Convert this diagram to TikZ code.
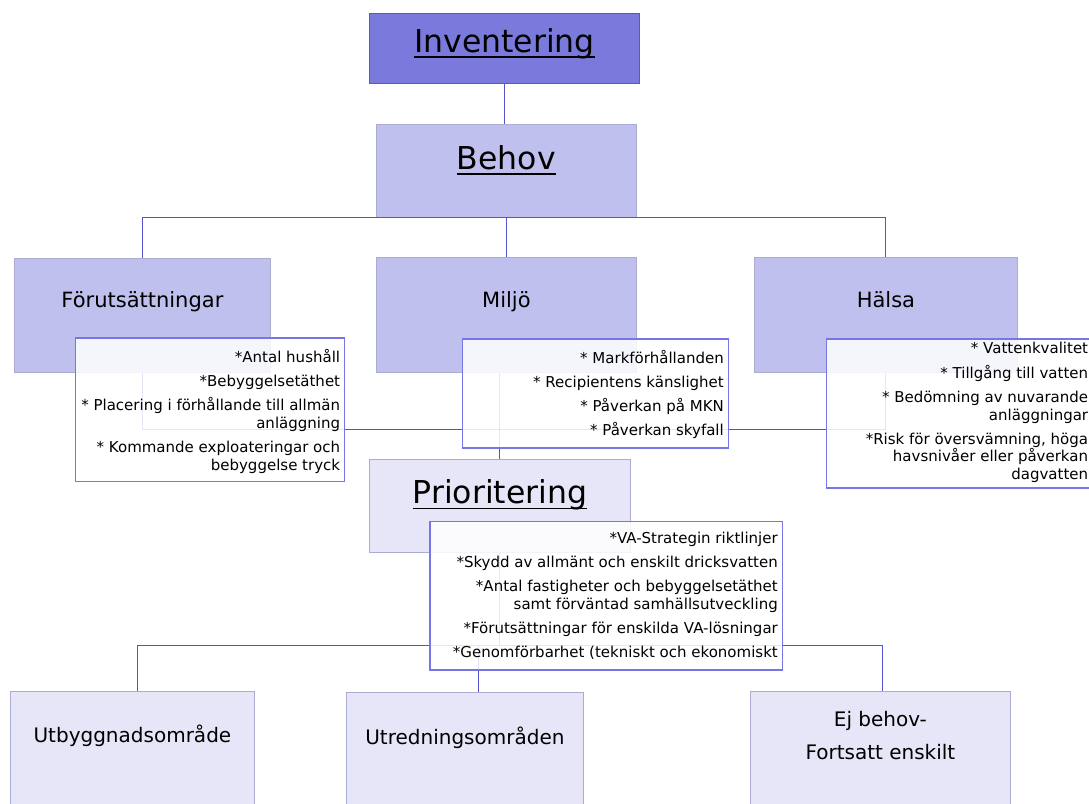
\documentclass[tikz,border=0pt]{standalone}
\usepackage{fontspec}
\setmainfont{DejaVu Sans}
\definecolor{invfill}{RGB}{122,122,220}
\definecolor{invline}{RGB}{92,92,160}
\definecolor{midfill}{RGB}{192,192,238}
\definecolor{lowfill}{RGB}{230,230,248}
\definecolor{boxline}{RGB}{172,172,208}
\definecolor{linkcol}{RGB}{84,84,204}
\definecolor{itemline}{RGB}{118,118,228}
% underline at a fixed depth below the baseline
\newcommand{\undl}[1]{\setbox0=\hbox{#1}\rlap{\rule[-5.5pt]{\wd0}{1.6pt}}\box0}
% right aligned list of points in a box of given width and height
\newcommand{\pointlist}[3]{\parbox[t][#2][t]{#1}{\raggedleft\fontsize{15}{17.7}\selectfont #3}}
\newcommand{\gp}{\\[6.5pt]}
\tikzset{
  stage/.style={draw=boxline, line width=0.8pt, anchor=north west, inner sep=0pt},
  title/.style={font=\fontsize{31.5}{36}\selectfont},
  topic/.style={font=\fontsize{21}{25}\selectfont, text height=16pt},
  result/.style={font=\fontsize{20}{24}\selectfont, text height=15pt},
  points/.style={draw=itemline, line width=1.2pt, fill=white, fill opacity=0.85,
    text opacity=1, anchor=north west, inner xsep=4.5pt},
  link/.style={draw=linkcol, line width=1pt}
}
\begin{document}
\begin{tikzpicture}[x=1pt,y=-1pt]
\useasboundingbox (0,0) rectangle (1089,803);
  % Draw main stages
  \node[stage, title, draw=invline, fill=invfill, minimum width=270pt, minimum height=70pt,
        text height=23pt, text depth=15pt] (inv) at (369,13) {\undl{Inventering}};
  \node[stage, title, fill=midfill, minimum width=260pt, minimum height=93pt,
        text height=23pt, text depth=26pt] (behov) at (376,124) {\undl{Behov}};
  \node[stage, title, fill=lowfill, minimum width=261pt, minimum height=93pt,
        text height=23pt, text depth=27.4pt] (prior) at (369,459) {\undl{Prioritering}};
  % Draw topics under Behov
  \node[stage, topic, fill=midfill, minimum width=256pt, minimum height=114pt,
        text depth=31.4pt] (forut) at (14,258) {Förutsättningar};
  \node[stage, topic, fill=midfill, minimum width=260pt, minimum height=115pt,
        text depth=31.6pt] (miljo) at (376,257) {Miljö};
  \node[stage, topic, fill=midfill, minimum width=263pt, minimum height=115pt,
        text depth=31.6pt] (halsa) at (754,257) {Hälsa};
  % Draw results
  \node[stage, result, fill=lowfill, minimum width=244pt, minimum height=130pt,
        text depth=43.6pt] (utby) at (10,691) {Utbyggnadsområde};
  \node[stage, result, fill=lowfill, minimum width=237pt, minimum height=130pt,
        text depth=41pt] (utred) at (346,692) {Utredningsområden};
  \node[stage, fill=lowfill, minimum width=260pt, minimum height=130pt,
        font=\fontsize{20}{33.3}\selectfont, text height=48.3pt, text depth=42.3pt]
        (ej) at (750,691) {\begin{tabular}[b]{@{}c@{}}Ej behov-\\Fortsatt enskilt\end{tabular}};
  % Draw connectors
  \coordinate (mid) at (0,429);
  \coordinate (low) at (0,645);
  \draw[link] (inv.south) -- (inv.south |- behov.north);
  \draw[link] (behov.south) -- (miljo.north);
  \draw[link] (forut.north) |- (behov.south) -| (halsa.north);
  \draw[link] (forut.south) -- (forut.south |- mid) -- (halsa.south |- mid) -- (halsa.south);
  \draw[link] (prior.north |- miljo.south) -- (prior.north);
  \draw[link] (prior.south) -- (prior.south |- low);
  \draw[link] ([xshift=5pt]utby.north) -- ([xshift=5pt]utby.north |- low)
        -- ([xshift=2pt]ej.north |- low) -- ([xshift=2pt]ej.north);
  \draw[link] ([xshift=13.5pt]utred.north |- low) -- ([xshift=13.5pt]utred.north);
  % Draw lists of points
  \node[points, inner ysep=11.3pt] (p1) at (75,337.3) {\pointlist{260pt}{121.1pt}{%
    *Antal hushåll\gp *Bebyggelsetäthet\gp
    * Placering i förhållande till allmän\\ anläggning\gp
    * Kommande exploateringar och\\ bebyggelse tryck}};
  \node[points, inner ysep=11.3pt] (p2) at (461.7,338.3) {\pointlist{257pt}{86.4pt}{%
    * Markförhållanden\gp * Recipientens känslighet\gp
    * Påverkan på MKN\gp * Påverkan skyfall}};
  \node[points, inner ysep=3.6pt] (p3) at (826,338.3) {\pointlist{257pt}{141.8pt}{%
    * Vattenkvalitet\gp * Tillgång till vatten\gp
    * Bedömning av nuvarande\\ anläggningar\gp
    *Risk för översvämning, höga\\ havsnivåer eller påverkan\\ dagvatten}};
  \node[points, inner ysep=10.6pt] (p4) at (429.3,520.7) {\pointlist{343.4pt}{127.4pt}{%
    *VA-Strategin riktlinjer\gp *Skydd av allmänt och enskilt dricksvatten\gp
    *Antal fastigheter och bebyggelsetäthet\\ samt förväntad samhällsutveckling\gp
    *Förutsättningar för enskilda VA-lösningar\gp
    *Genomförbarhet (tekniskt och ekonomiskt}};
\end{tikzpicture}
\end{document}
